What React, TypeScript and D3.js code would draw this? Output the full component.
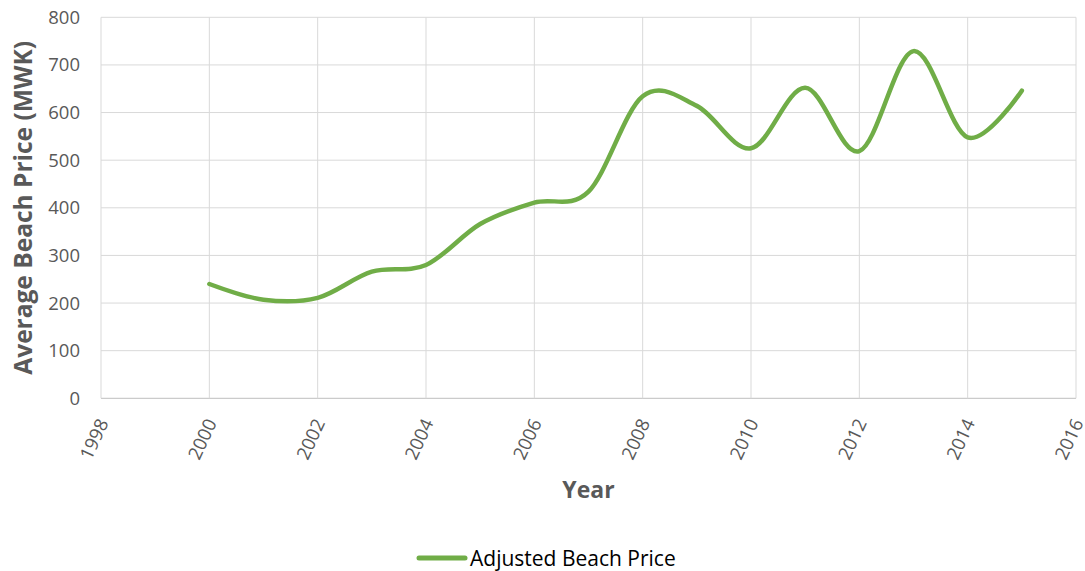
import React from "react";
import * as d3 from "d3";

const years = [2000, 2001, 2002, 2003, 2004, 2005, 2006, 2007, 2008, 2009, 2010, 2011, 2012, 2013, 2014, 2015];
const prices = [240, 207, 211, 266, 280, 366, 411, 434, 634, 614, 525, 652, 519, 729, 548, 646];
const xTicks = [1998, 2000, 2002, 2004, 2006, 2008, 2010, 2012, 2014, 2016];
const yTicks = [0, 100, 200, 300, 400, 500, 600, 700, 800];
const seriesName = "Adjusted Beach Price";
const xTitle = "Year";
const yTitle = "Average Beach Price (MWK)";

const W = 1085;
const H = 571;
const left = 101;
const right = 1076;
const top = 17.3;
const bottom = 398.3;
const font = "'Open Sans', 'DejaVu Sans', sans-serif";
const green = "#70AD47";

export default function App() {
  const x = d3.scaleLinear().domain([1998, 2016]).range([left, right]);
  const y = d3.scaleLinear().domain([0, 800]).range([bottom, top]);
  const data = years.map((yr, i) => ({ yr, v: prices[i] }));
  const line = d3
    .line<{ yr: number; v: number }>()
    .x((d) => x(d.yr))
    .y((d) => y(d.v))
    .curve(d3.curveCardinal.tension(0));

  return (
    <svg
      width={W}
      height={H}
      style={{ position: "absolute", left: 0, top: 0, background: "#fff" }}
      fontFamily={font}
    >
      {yTicks.map((t) => (
        <line
          key={"gy" + t}
          x1={left}
          x2={right}
          y1={y(t)}
          y2={y(t)}
          stroke={t === 0 ? "#bfbfbf" : "#d9d9d9"}
          strokeWidth={1}
        />
      ))}
      {xTicks.map((t) => (
        <line key={"gx" + t} x1={x(t)} x2={x(t)} y1={top} y2={bottom} stroke="#d9d9d9" strokeWidth={1} />
      ))}
      {yTicks.map((t) => (
        <text
          key={"ty" + t}
          x={80}
          y={y(t)}
          dy="0.35em"
          textAnchor="end"
          fontSize={18.5}
          fill="#595959"
        >
          {t}
        </text>
      ))}
      {xTicks.map((t) => (
        <text
          key={"tx" + t}
          transform={`translate(${x(t) + 2},${420}) rotate(-65)`}
          textAnchor="end"
          fontSize={18.5}
          fill="#595959"
          dy="0.35em"
        >
          {t}
        </text>
      ))}
      <path d={line(data) || ""} fill="none" stroke={green} strokeWidth={4.5} strokeLinecap="round" />
      <text
        transform={`translate(${32},${(top + bottom) / 2}) rotate(-90)`}
        textAnchor="middle"
        fontSize={24.5}
        fontWeight="bold"
        fill="#595959"
      >
        {yTitle}
      </text>
      <text x={(left + right) / 2} y={498} textAnchor="middle" fontSize={23} fontWeight="bold" fill="#595959">
        {xTitle}
      </text>
      <line x1={419} x2={465} y1={558} y2={558} stroke={green} strokeWidth={5} strokeLinecap="round" />
      <text x={470} y={566} fontSize={21} fill="#000">
        {seriesName}
      </text>
    </svg>
  );
}
